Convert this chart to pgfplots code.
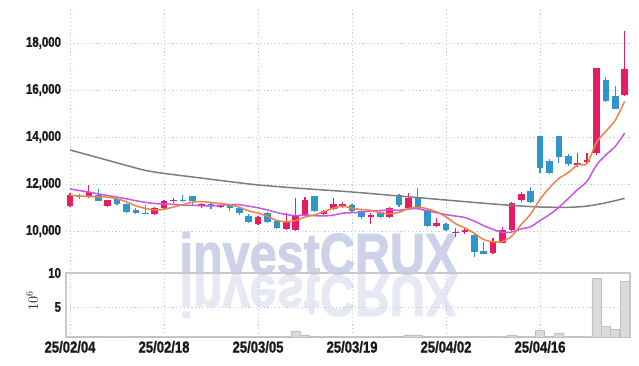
\documentclass[border=0pt]{standalone}
\usepackage{fontspec}
\setmainfont{Liberation Sans}
\newfontfamily\tickfont{Liberation Sans}[UprightFont=* Bold, FakeStretch=0.82, FakeBold=1.2]
\newfontfamily\wmfont{Liberation Sans}[UprightFont=* Bold, FakeBold=2]
\usepackage{pgfplots}
\pgfplotsset{compat=1.18}
\usepackage{pgfplotstable}
\definecolor{upc}{RGB}{230,28,100}
\definecolor{dnc}{RGB}{46,150,200}
\definecolor{mafive}{RGB}{240,130,70}
\definecolor{maten}{RGB}{200,85,230}
\definecolor{malong}{RGB}{125,125,125}
\definecolor{gridc}{RGB}{195,200,222}
\definecolor{axc}{RGB}{200,200,206}
\definecolor{wm}{RGB}{204,210,232}
\definecolor{wmr}{RGB}{230,233,243}
\definecolor{volf}{RGB}{218,218,218}
\definecolor{vold}{RGB}{192,192,192}
\definecolor{txt}{RGB}{25,25,25}

\pgfplotstableread{
x o h l c
0 11076 11604 11021 11532
2 11434 11970 11383 11647
4 11076 11340 11021 11319
9 10723 11030 10681 10991
10 10979 11330 10923 11289
11 11264 11404 11179 11306
14 11051 11204 10979 11149
16 11034 11191 10990 11119
20 10285 10651 10240 10609
23 10085 10779 10043 10426
24 10043 11404 10020 10681
25 10681 11460 10660 11319
27 10723 10900 10700 10851
28 10936 11417 10894 11136
29 11076 11221 10991 11136
32 10583 10753 10285 10681
34 10583 11034 10560 10991
36 10966 11610 10894 11391
39 10226 10560 10190 10353
41 9930 10115 9757 9970
42 9943 10115 9872 10057
45 9051 9720 9030 9546
46 9502 10150 9480 10043
47 10043 11247 10020 11204
48 11319 11672 11247 11574
54 12808 13306 12736 12880
55 12936 13306 12900 13021
56 13306 16950 13234 16936
59 15787 18510 15750 16893
}\up

\pgfplotstableread{
x o h l c
1 11470 11570 11380 11430
3 11532 11774 11264 11289
5 11362 11400 11094 11162
6 11149 11200 10766 10808
7 10894 10966 10740 10780
8 10780 11106 10720 10740
12 11319 11519 11234 11264
13 11470 11480 11064 11264
15 11149 11180 10923 11064
17 11106 11150 10864 10979
18 10979 11020 10681 10753
19 10638 10710 10327 10370
21 10753 10821 10350 10396
22 10426 10450 10085 10142
26 11489 11500 10808 10851
30 11106 11149 10810 10851
31 10851 10900 10498 10583
33 10796 10830 10540 10610
35 11532 11574 11034 11106
37 11417 11817 10960 10991
38 10894 10920 10190 10226
40 10298 10330 10000 10043
43 9830 9860 8881 9094
44 9149 9546 9010 9034
49 11716 11859 11200 11247
50 14043 14060 12455 12694
51 12979 13051 12440 12481
52 14043 14060 12906 13162
53 13191 13264 12779 12838
57 16425 16567 15500 15545
58 15745 16170 15178 15191
}\down

\pgfplotstableread{
x m5 m10
0 11532 11790
1 11490 11720
2 11470 11660
3 11447 11580
4 11443 11510
5 11369 11440
6 11245 11370
7 11072 11290
8 10962 11220
9 10896 11170
10 10922 11146
11 11021 11133
12 11118 11095
13 11223 11092
14 11254 11075
15 11209 11066
16 11172 11097
17 11115 11117
18 11013 11118
19 10857 11056
20 10766 10988
21 10621 10897
22 10454 10785
23 10389 10701
24 10451 10654
25 10593 10679
26 10684 10653
27 10826 10640
28 10968 10678
29 11059 10755
30 10965 10779
31 10911 10798
32 10877 10852
33 10772 10870
34 10743 10901
35 10794 10880
36 10956 10934
37 11018 10948
38 10941 10857
39 10813 10778
40 10601 10698
41 10317 10636
42 10130 10574
43 9903 10422
44 9640 10227
45 9540 10071
46 9555 9936
47 9784 9957
48 10280 10092
49 10723 10181
50 11352 10446
51 11840 10697
52 12232 11008
53 12484 11382
54 12811 11767
55 12876 12114
56 13767 12804
57 14244 13238
58 14715 13600
59 15517 14164
}\ma

\pgfplotstableread{
x g
0 13447
2 13230
4 13010
6 12790
8 12580
10 12450
13 12300
16 12150
20 11960
25 11800
30 11660
35 11489
40 11319
45 11149
48 11064
50 11021
53 11008
55 11060
57 11200
59 11390
}\malong

\pgfplotstableread{
x v
0 0.4
1 0.3
2 0.4
3 0.7
4 0.3
5 0.3
6 0.4
7 0.7
8 0.4
9 0.7
10 0.4
11 0.3
12 0.3
13 0.4
14 0.3
15 0.3
16 0.3
17 0.3
18 0.4
19 0.4
20 0.5
21 0.4
22 0.4
23 0.5
24 1.5
25 0.9
26 0.7
27 0.4
28 0.7
29 0.4
30 0.4
31 0.4
32 0.5
33 0.4
34 0.5
35 0.7
36 0.9
37 0.9
38 0.7
39 0.4
40 0.5
41 0.4
42 0.4
43 0.7
44 0.5
45 0.7
46 0.5
47 0.9
48 0.7
49 0.5
50 1.6
51 0.7
52 1.2
53 0.7
54 0.7
55 0.6
56 9.2
57 2.2
58 1.76
59 8.8
}\vol

\newcommand\ytlfont{\tickfont\fontsize{14}{14}\selectfont\color{txt}}
\newcommand\xtlfont{\tickfont\fontsize{16}{16}\selectfont\color{txt}}

\begin{document}
\begin{tikzpicture}
\path[use as bounding box] (0,0) rectangle (639bp,366bp);
% watermark
\node[anchor=base, text=wm, inner sep=0pt, font=\wmfont\fontsize{58}{58}\selectfont] at (318.5bp,92bp) {\scalebox{0.84}[1]{investCRUX}};
\node[anchor=base, text=wmr, inner sep=0pt, font=\wmfont\fontsize{58}{58}\selectfont] at (318.5bp,90bp) {\scalebox{0.84}[-1]{investCRUX}};

\pgfplotsset{
  common/.style={
    scale only axis, width=564bp, anchor=south west,
    xmin=-0.43, xmax=59.57,
    xtick={0,10,20,30,40,50},
    xmajorgrids, ymajorgrids,
    grid style={gridc, line width=0.8bp, dash pattern=on 1.2bp off 2.6bp},
    major tick length=0pt,
    yticklabel style={font=\ytlfont, xshift=-1.5bp},
    xticklabel style={font=\xtlfont, yshift=-0.5bp},
    /pgf/number format/assume math mode=true,
    axis line style={axc, line width=1.1bp},
    scaled y ticks=false,
  },
  candle/.style 2 args={draw=none, mark=none, forget plot,
    error bars/.cd, y dir=plus, y explicit, error mark=none,
    error bar style={draw=#1, solid, line width=#2}},
}

\begin{axis}[common, at={(66bp,93bp)}, height=263bp,
  ymin=8213, ymax=19404,
  ytick={10000,12000,14000,16000,18000},
  xticklabels={},
  x axis line style={draw=none},
  yticklabel style={/pgf/number format/.cd, fixed, 1000 sep={,}}]
% up candles
\addplot[candle={upc}{1.3bp}]
  table[x=x, y=l, y error plus expr=\thisrow{h}-\thisrow{l}] {\up};
\addplot[candle={upc}{6.6bp}]
  table[x=x, y=o, y error plus expr=\thisrow{c}-\thisrow{o}] {\up};
% down candles
\addplot[candle={dnc}{1.3bp}]
  table[x=x, y=l, y error plus expr=\thisrow{h}-\thisrow{l}] {\down};
\addplot[candle={dnc}{6.6bp}]
  table[x=x, y=c, y error plus expr=\thisrow{o}-\thisrow{c}] {\down};
% moving averages
\addplot[malong, line width=1.5bp, smooth, mark=none] table[x=x, y=g] {\malong};
\addplot[maten, line width=1.5bp, smooth, mark=none] table[x=x, y=m10] {\ma};
\addplot[mafive, line width=1.5bp, smooth, mark=none] table[x=x, y=m5] {\ma};
\end{axis}

\begin{axis}[common, at={(66bp,29bp)}, height=64bp,
  ymin=0.59, ymax=10,
  ytick={5,10},
  xticklabels={25/02/04,25/02/18,25/03/05,25/03/19,25/04/02,25/04/16}]
\addplot[ybar, bar width=0.96, fill=volf, draw=vold, line width=0.6bp] table[x=x, y=v] {\vol};
\end{axis}

\node[rotate=90, font=\fontsize{14}{14}\selectfont, text=txt] at (32bp,65bp) {$10^{6}$};
\end{tikzpicture}
\end{document}
